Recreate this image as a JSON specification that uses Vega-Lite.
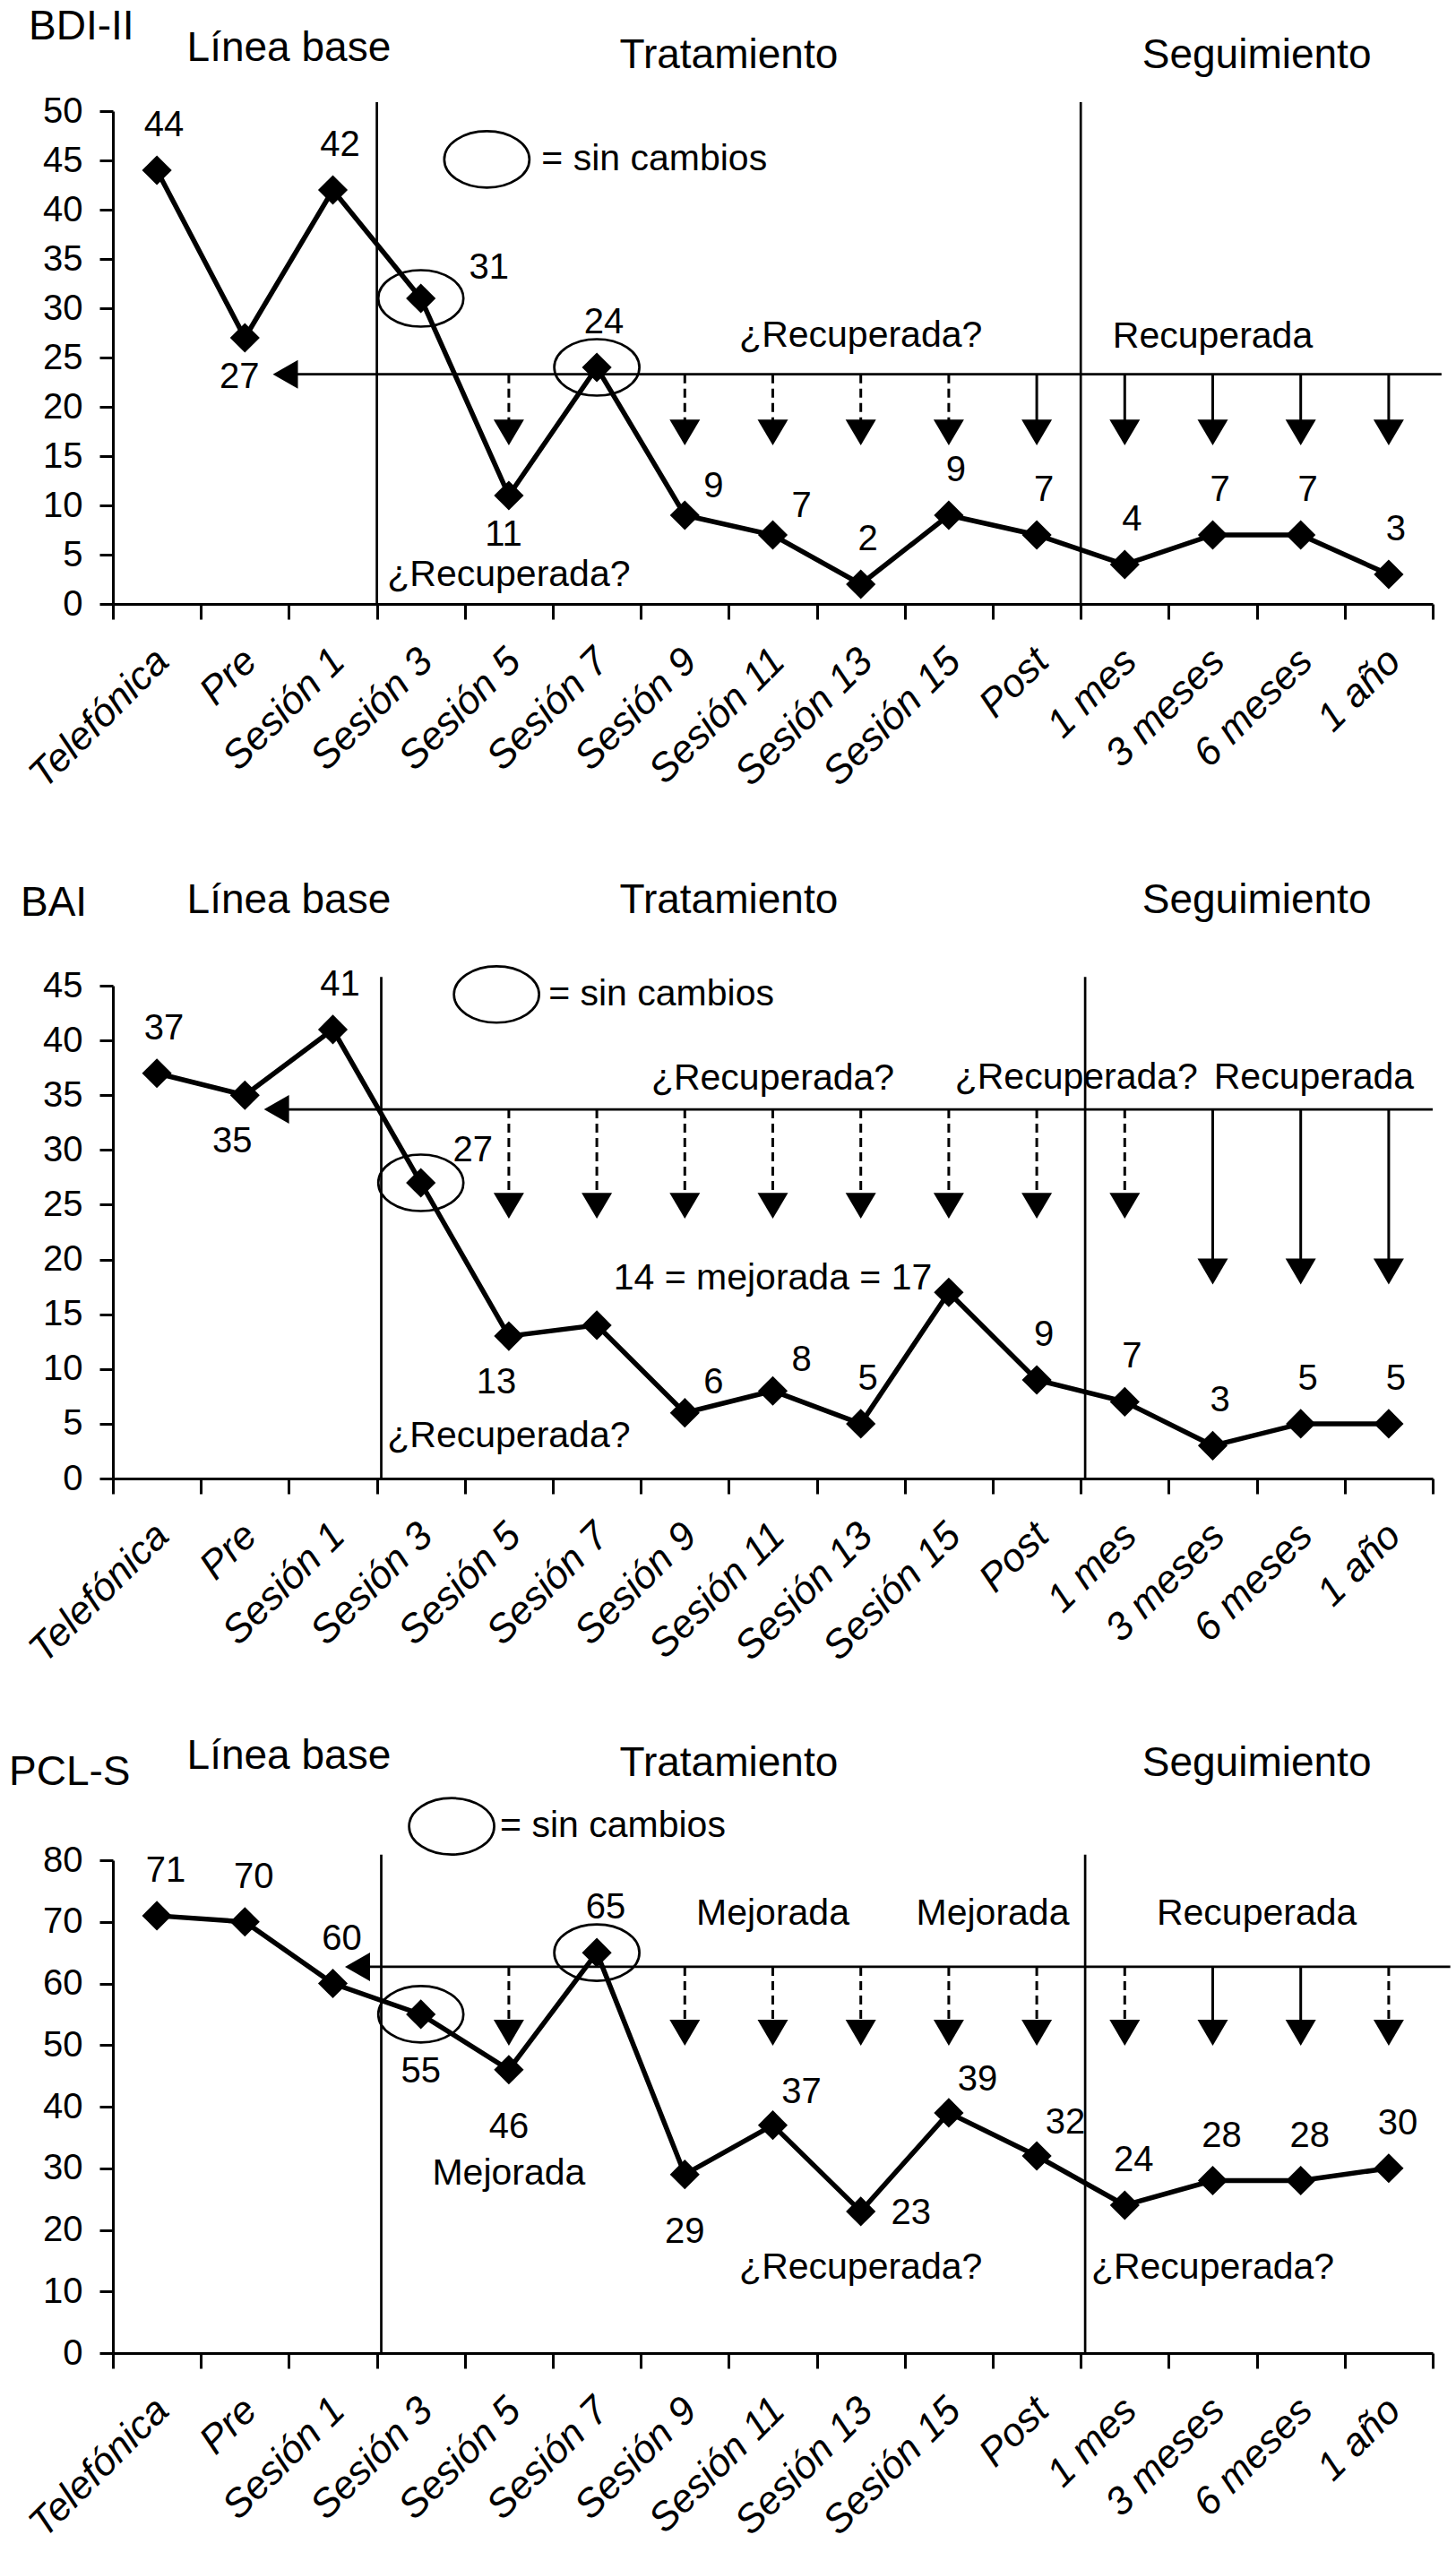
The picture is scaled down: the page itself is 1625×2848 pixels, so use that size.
{
"$schema":"https://vega.github.io/schema/vega-lite/v6.json",
"padding":{"left":10,"top":6,"right":5,"bottom":5},
"background":"white",
"bounds":"flush",
"spacing":426,
"config":{"view":{"stroke":null},"axis":{"grid":false,"labelFont":"Liberation Sans","labelColor":"black","domainColor":"black","tickColor":"black","domainWidth":3,"tickWidth":3},"text":{"font":"Liberation Sans","color":"black"}},
"datasets":{
"bdi":[{"cat":"Telefónica","v":44},{"cat":"Pre","v":27},{"cat":"Sesión 1","v":42},{"cat":"Sesión 3","v":31},{"cat":"Sesión 5","v":11},{"cat":"Sesión 7","v":24},{"cat":"Sesión 9","v":9},{"cat":"Sesión 11","v":7},{"cat":"Sesión 13","v":2},{"cat":"Sesión 15","v":9},{"cat":"Post","v":7},{"cat":"1 mes","v":4},{"cat":"3 meses","v":7},{"cat":"6 meses","v":7},{"cat":"1 año","v":3}],
"bai":[{"cat":"Telefónica","v":37},{"cat":"Pre","v":35},{"cat":"Sesión 1","v":41},{"cat":"Sesión 3","v":27},{"cat":"Sesión 5","v":13},{"cat":"Sesión 7","v":14},{"cat":"Sesión 9","v":6},{"cat":"Sesión 11","v":8},{"cat":"Sesión 13","v":5},{"cat":"Sesión 15","v":17},{"cat":"Post","v":9},{"cat":"1 mes","v":7},{"cat":"3 meses","v":3},{"cat":"6 meses","v":5},{"cat":"1 año","v":5}],
"pcl":[{"cat":"Telefónica","v":71},{"cat":"Pre","v":70},{"cat":"Sesión 1","v":60},{"cat":"Sesión 3","v":55},{"cat":"Sesión 5","v":46},{"cat":"Sesión 7","v":65},{"cat":"Sesión 9","v":29},{"cat":"Sesión 11","v":37},{"cat":"Sesión 13","v":23},{"cat":"Sesión 15","v":39},{"cat":"Post","v":32},{"cat":"1 mes","v":24},{"cat":"3 meses","v":28},{"cat":"6 meses","v":28},{"cat":"1 año","v":30}],
"bdi_flechas":[{"cat":"Sesión 5","corte":23.3,"fin":17.4,"estado":"dudoso"},{"cat":"Sesión 9","corte":23.3,"fin":17.4,"estado":"dudoso"},{"cat":"Sesión 11","corte":23.3,"fin":17.4,"estado":"dudoso"},{"cat":"Sesión 13","corte":23.3,"fin":17.4,"estado":"dudoso"},{"cat":"Sesión 15","corte":23.3,"fin":17.4,"estado":"dudoso"},{"cat":"Post","corte":23.3,"fin":17.4,"estado":"claro"},{"cat":"1 mes","corte":23.3,"fin":17.4,"estado":"claro"},{"cat":"3 meses","corte":23.3,"fin":17.4,"estado":"claro"},{"cat":"6 meses","corte":23.3,"fin":17.4,"estado":"claro"},{"cat":"1 año","corte":23.3,"fin":17.4,"estado":"claro"}],
"bai_flechas":[{"cat":"Sesión 5","corte":33.7,"fin":24.9,"estado":"dudoso"},{"cat":"Sesión 7","corte":33.7,"fin":24.9,"estado":"dudoso"},{"cat":"Sesión 9","corte":33.7,"fin":24.9,"estado":"dudoso"},{"cat":"Sesión 11","corte":33.7,"fin":24.9,"estado":"dudoso"},{"cat":"Sesión 13","corte":33.7,"fin":24.9,"estado":"dudoso"},{"cat":"Sesión 15","corte":33.7,"fin":24.9,"estado":"dudoso"},{"cat":"Post","corte":33.7,"fin":24.9,"estado":"dudoso"},{"cat":"1 mes","corte":33.7,"fin":24.9,"estado":"dudoso"},{"cat":"3 meses","corte":33.7,"fin":18.9,"estado":"claro"},{"cat":"6 meses","corte":33.7,"fin":18.9,"estado":"claro"},{"cat":"1 año","corte":33.7,"fin":18.9,"estado":"claro"}],
"pcl_flechas":[{"cat":"Sesión 5","corte":62.7,"fin":52.0,"estado":"dudoso"},{"cat":"Sesión 9","corte":62.7,"fin":52.0,"estado":"dudoso"},{"cat":"Sesión 11","corte":62.7,"fin":52.0,"estado":"dudoso"},{"cat":"Sesión 13","corte":62.7,"fin":52.0,"estado":"dudoso"},{"cat":"Sesión 15","corte":62.7,"fin":52.0,"estado":"dudoso"},{"cat":"Post","corte":62.7,"fin":52.0,"estado":"dudoso"},{"cat":"1 mes","corte":62.7,"fin":52.0,"estado":"dudoso"},{"cat":"3 meses","corte":62.7,"fin":52.0,"estado":"claro"},{"cat":"6 meses","corte":62.7,"fin":52.0,"estado":"claro"},{"cat":"1 año","corte":62.7,"fin":52.0,"estado":"dudoso"}],
"bdi_corte":[{"desde":"Pre","hasta":"1 año","v":23.3}],
"bai_corte":[{"desde":"Pre","hasta":"1 año","v":33.7}],
"pcl_corte":[{"desde":"Sesión 1","hasta":"1 año","v":62.7}],
"bdi_div":[{"cat":"Sesión 3","top":50.9},{"cat":"1 mes","top":50.9}],
"bai_div":[{"cat":"Sesión 3","top":45.8},{"cat":"1 mes","top":45.8}],
"pcl_div":[{"cat":"Sesión 3","top":80.9},{"cat":"1 mes","top":80.9}],
"bdi_fases":[{"cat":"Sesión 1","v":55.1,"txt":"Línea base"},{"cat":"Sesión 11","v":54.4,"txt":"Tratamiento"},{"cat":"6 meses","v":54.4,"txt":"Seguimiento"}],
"bai_fases":[{"cat":"Sesión 1","v":51.6,"txt":"Línea base"},{"cat":"Sesión 11","v":51.6,"txt":"Tratamiento"},{"cat":"6 meses","v":51.6,"txt":"Seguimiento"}],
"pcl_fases":[{"cat":"Sesión 1","v":94.8,"txt":"Línea base"},{"cat":"Sesión 11","v":93.7,"txt":"Tratamiento"},{"cat":"6 meses","v":93.7,"txt":"Seguimiento"}],
"bdi_nombre":[{"cat":"Telefónica","v":57.3,"txt":"BDI-II"}],
"bai_nombre":[{"cat":"Telefónica","v":51.4,"txt":"BAI"}],
"pcl_nombre":[{"cat":"Telefónica","v":92.2,"txt":"PCL-S"}],
"bdi_notas":[{"cat":"Sesión 13","v":26.1,"txt":"¿Recuperada?"},{"cat":"3 meses","v":26.0,"txt":"Recuperada"},{"cat":"Sesión 5","v":1.8,"txt":"¿Recuperada?"}],
"bai_notas":[{"cat":"Sesión 11","v":35.5,"txt":"¿Recuperada?"},{"cat":"1 mes","v":35.6,"txt":"¿Recuperada?"},{"cat":"6 meses","v":35.6,"txt":"Recuperada"},{"cat":"Sesión 11","v":17.3,"txt":"14 = mejorada = 17"},{"cat":"Sesión 5","v":2.9,"txt":"¿Recuperada?"}],
"pcl_notas":[{"cat":"Sesión 11","v":69.5,"txt":"Mejorada"},{"cat":"Post","v":69.6,"txt":"Mejorada"},{"cat":"6 meses","v":69.6,"txt":"Recuperada"},{"cat":"Sesión 5","v":27.3,"txt":"Mejorada"},{"cat":"Sesión 13","v":12.1,"txt":"¿Recuperada?"},{"cat":"3 meses","v":12.1,"txt":"¿Recuperada?"}],
"bdi_leyenda":[{"cat":"Sesión 5","v":45.1,"txt":"= sin cambios"}],
"bai_leyenda":[{"cat":"Sesión 5","v":44.2,"txt":"= sin cambios"}],
"pcl_leyenda":[{"cat":"Sesión 3","v":85.5,"txt":"= sin cambios"}]
},
"vconcat":[
{"width":1473,"height":550,"layer":[
{"data":{"name":"bdi_div"},"mark":{"type":"rule","color":"black","strokeWidth":2.7},"encoding":{"x":{"field":"cat","type":"nominal","title":null,"bandPosition":0,"scale":{"domain":["Telefónica","Pre","Sesión 1","Sesión 3","Sesión 5","Sesión 7","Sesión 9","Sesión 11","Sesión 13","Sesión 15","Post","1 mes","3 meses","6 meses","1 año"],"paddingInner":0,"paddingOuter":0}},"y":{"field":"top","type":"quantitative","title":null,"scale":{"domain":[0,50],"nice":false}},"y2":{"datum":0}}},
{"data":{"name":"bdi_corte"},"mark":{"type":"rule","color":"black","strokeWidth":2.7},"encoding":{"x":{"field":"desde","type":"nominal","title":null,"bandPosition":0.96,"scale":{"domain":["Telefónica","Pre","Sesión 1","Sesión 3","Sesión 5","Sesión 7","Sesión 9","Sesión 11","Sesión 13","Sesión 15","Post","1 mes","3 meses","6 meses","1 año"],"paddingInner":0,"paddingOuter":0}},"x2":{"field":"hasta","bandPosition":1.1},"y":{"field":"v","type":"quantitative","title":null,"scale":{"domain":[0,50],"nice":false}}}},
{"data":{"name":"bdi_corte"},"mark":{"type":"point","shape":"M-0.875,0L0.875,-1L0.875,1Z","size":1024,"filled":true,"color":"black","opacity":1},"encoding":{"x":{"field":"desde","type":"nominal","title":null,"bandPosition":0.96,"scale":{"domain":["Telefónica","Pre","Sesión 1","Sesión 3","Sesión 5","Sesión 7","Sesión 9","Sesión 11","Sesión 13","Sesión 15","Post","1 mes","3 meses","6 meses","1 año"],"paddingInner":0,"paddingOuter":0}},"y":{"field":"v","type":"quantitative","title":null,"scale":{"domain":[0,50],"nice":false}}}},
{"data":{"name":"bdi_flechas"},"mark":{"type":"rule","color":"black","strokeWidth":3},"encoding":{"x":{"field":"cat","type":"nominal","title":null,"scale":{"domain":["Telefónica","Pre","Sesión 1","Sesión 3","Sesión 5","Sesión 7","Sesión 9","Sesión 11","Sesión 13","Sesión 15","Post","1 mes","3 meses","6 meses","1 año"],"paddingInner":0,"paddingOuter":0}},"y":{"field":"corte","type":"quantitative","title":null,"scale":{"domain":[0,50],"nice":false}},"y2":{"field":"fin"},"strokeDash":{"field":"estado","type":"nominal","scale":{"domain":["dudoso","claro"],"range":[[10,6],[1,0]]},"legend":null}}},
{"data":{"name":"bdi_flechas"},"mark":{"type":"point","shape":"M-1,-0.85L1,-0.85L0,0.85Z","size":1156,"filled":true,"color":"black","opacity":1},"encoding":{"x":{"field":"cat","type":"nominal","title":null,"scale":{"domain":["Telefónica","Pre","Sesión 1","Sesión 3","Sesión 5","Sesión 7","Sesión 9","Sesión 11","Sesión 13","Sesión 15","Post","1 mes","3 meses","6 meses","1 año"],"paddingInner":0,"paddingOuter":0}},"y":{"field":"fin","type":"quantitative","title":null,"scale":{"domain":[0,50],"nice":false}}}},
{"data":{"name":"bdi"},"mark":{"type":"line","color":"black","strokeWidth":5.5},"encoding":{"x":{"field":"cat","type":"nominal","title":null,"scale":{"domain":["Telefónica","Pre","Sesión 1","Sesión 3","Sesión 5","Sesión 7","Sesión 9","Sesión 11","Sesión 13","Sesión 15","Post","1 mes","3 meses","6 meses","1 año"],"paddingInner":0,"paddingOuter":0},"axis":{"tickBand":"extent","labelAngle":-45,"labelAlign":"right","labelBaseline":"middle","labelPadding":40,"labelOffset":6,"tickSize":17,"labelFontSize":44,"labelFontStyle":"italic","labelOverlap":false,"labelLimit":0}},"y":{"field":"v","type":"quantitative","title":null,"scale":{"domain":[0,50],"nice":false},"axis":{"values":[0,5,10,15,20,25,30,35,40,45,50],"tickSize":15,"labelPadding":19,"labelFontSize":40}},"order":{"value":null}}},
{"data":{"name":"bdi"},"mark":{"type":"point","shape":"diamond","size":1100,"filled":true,"color":"black","opacity":1},"encoding":{"x":{"field":"cat","type":"nominal","title":null,"scale":{"domain":["Telefónica","Pre","Sesión 1","Sesión 3","Sesión 5","Sesión 7","Sesión 9","Sesión 11","Sesión 13","Sesión 15","Post","1 mes","3 meses","6 meses","1 año"],"paddingInner":0,"paddingOuter":0}},"y":{"field":"v","type":"quantitative","title":null,"scale":{"domain":[0,50],"nice":false}}}},
{"data":{"name":"bdi"},"transform":[{"filter":{"field":"cat","oneOf":["Sesión 3","Sesión 7"]}}],"mark":{"type":"point","shape":"M-1,0C-1,-0.366,-0.552,-0.663,0,-0.663C0.552,-0.663,1,-0.366,1,0C1,0.366,0.552,0.663,0,0.663C-0.552,0.663,-1,0.366,-1,0Z","size":9025,"filled":false,"color":"black","strokeWidth":2.7,"opacity":1},"encoding":{"x":{"field":"cat","type":"nominal","title":null,"scale":{"domain":["Telefónica","Pre","Sesión 1","Sesión 3","Sesión 5","Sesión 7","Sesión 9","Sesión 11","Sesión 13","Sesión 15","Post","1 mes","3 meses","6 meses","1 año"],"paddingInner":0,"paddingOuter":0}},"y":{"field":"v","type":"quantitative","title":null,"scale":{"domain":[0,50],"nice":false}}}},
{"data":{"name":"bdi"},"transform":[{"filter":{"field":"cat","oneOf":["Telefónica","Sesión 1","Sesión 7","Sesión 13","Sesión 15","Post","1 mes","3 meses","6 meses","1 año"]}}],"mark":{"type":"text","fontSize":40,"align":"center","baseline":"alphabetic","dx":8,"dy":-38},"encoding":{"x":{"field":"cat","type":"nominal","title":null,"scale":{"domain":["Telefónica","Pre","Sesión 1","Sesión 3","Sesión 5","Sesión 7","Sesión 9","Sesión 11","Sesión 13","Sesión 15","Post","1 mes","3 meses","6 meses","1 año"],"paddingInner":0,"paddingOuter":0}},"y":{"field":"v","type":"quantitative","title":null,"scale":{"domain":[0,50],"nice":false}},"text":{"field":"v","type":"quantitative"}}},
{"data":{"name":"bdi"},"transform":[{"filter":{"field":"cat","oneOf":["Pre","Sesión 5"]}}],"mark":{"type":"text","fontSize":40,"align":"center","baseline":"alphabetic","dx":-6,"dy":56},"encoding":{"x":{"field":"cat","type":"nominal","title":null,"scale":{"domain":["Telefónica","Pre","Sesión 1","Sesión 3","Sesión 5","Sesión 7","Sesión 9","Sesión 11","Sesión 13","Sesión 15","Post","1 mes","3 meses","6 meses","1 año"],"paddingInner":0,"paddingOuter":0}},"y":{"field":"v","type":"quantitative","title":null,"scale":{"domain":[0,50],"nice":false}},"text":{"field":"v","type":"quantitative"}}},
{"data":{"name":"bdi"},"transform":[{"filter":{"field":"cat","oneOf":["Sesión 3"]}}],"mark":{"type":"text","fontSize":40,"align":"center","baseline":"alphabetic","dx":76,"dy":-22},"encoding":{"x":{"field":"cat","type":"nominal","title":null,"scale":{"domain":["Telefónica","Pre","Sesión 1","Sesión 3","Sesión 5","Sesión 7","Sesión 9","Sesión 11","Sesión 13","Sesión 15","Post","1 mes","3 meses","6 meses","1 año"],"paddingInner":0,"paddingOuter":0}},"y":{"field":"v","type":"quantitative","title":null,"scale":{"domain":[0,50],"nice":false}},"text":{"field":"v","type":"quantitative"}}},
{"data":{"name":"bdi"},"transform":[{"filter":{"field":"cat","oneOf":["Sesión 9","Sesión 11"]}}],"mark":{"type":"text","fontSize":40,"align":"center","baseline":"alphabetic","dx":32,"dy":-20},"encoding":{"x":{"field":"cat","type":"nominal","title":null,"scale":{"domain":["Telefónica","Pre","Sesión 1","Sesión 3","Sesión 5","Sesión 7","Sesión 9","Sesión 11","Sesión 13","Sesión 15","Post","1 mes","3 meses","6 meses","1 año"],"paddingInner":0,"paddingOuter":0}},"y":{"field":"v","type":"quantitative","title":null,"scale":{"domain":[0,50],"nice":false}},"text":{"field":"v","type":"quantitative"}}},
{"data":{"name":"bdi_notas"},"mark":{"type":"text","fontSize":41,"align":"center","baseline":"alphabetic"},"encoding":{"x":{"field":"cat","type":"nominal","title":null,"scale":{"domain":["Telefónica","Pre","Sesión 1","Sesión 3","Sesión 5","Sesión 7","Sesión 9","Sesión 11","Sesión 13","Sesión 15","Post","1 mes","3 meses","6 meses","1 año"],"paddingInner":0,"paddingOuter":0}},"y":{"field":"v","type":"quantitative","title":null,"scale":{"domain":[0,50],"nice":false}},"text":{"field":"txt"}}},
{"data":{"name":"bdi_fases"},"mark":{"type":"text","fontSize":46,"align":"center","baseline":"alphabetic"},"encoding":{"x":{"field":"cat","type":"nominal","title":null,"bandPosition":0,"scale":{"domain":["Telefónica","Pre","Sesión 1","Sesión 3","Sesión 5","Sesión 7","Sesión 9","Sesión 11","Sesión 13","Sesión 15","Post","1 mes","3 meses","6 meses","1 año"],"paddingInner":0,"paddingOuter":0}},"y":{"field":"v","type":"quantitative","title":null,"scale":{"domain":[0,50],"nice":false}},"text":{"field":"txt"}}},
{"data":{"name":"bdi_nombre"},"mark":{"type":"text","fontSize":46,"align":"left","baseline":"alphabetic","dx":-94},"encoding":{"x":{"field":"cat","type":"nominal","title":null,"bandPosition":0,"scale":{"domain":["Telefónica","Pre","Sesión 1","Sesión 3","Sesión 5","Sesión 7","Sesión 9","Sesión 11","Sesión 13","Sesión 15","Post","1 mes","3 meses","6 meses","1 año"],"paddingInner":0,"paddingOuter":0}},"y":{"field":"v","type":"quantitative","title":null,"scale":{"domain":[0,50],"nice":false}},"text":{"field":"txt"}}},
{"data":{"name":"bdi_leyenda"},"mark":{"type":"point","shape":"M-1,0C-1,-0.366,-0.552,-0.663,0,-0.663C0.552,-0.663,1,-0.366,1,0C1,0.366,0.552,0.663,0,0.663C-0.552,0.663,-1,0.366,-1,0Z","size":9025,"filled":false,"color":"black","strokeWidth":2.7,"opacity":1},"encoding":{"x":{"field":"cat","type":"nominal","title":null,"bandPosition":0.25,"scale":{"domain":["Telefónica","Pre","Sesión 1","Sesión 3","Sesión 5","Sesión 7","Sesión 9","Sesión 11","Sesión 13","Sesión 15","Post","1 mes","3 meses","6 meses","1 año"],"paddingInner":0,"paddingOuter":0}},"y":{"field":"v","type":"quantitative","title":null,"scale":{"domain":[0,50],"nice":false}}}},
{"data":{"name":"bdi_leyenda"},"mark":{"type":"text","fontSize":41,"align":"left","baseline":"middle","dx":61},"encoding":{"x":{"field":"cat","type":"nominal","title":null,"bandPosition":0.25,"scale":{"domain":["Telefónica","Pre","Sesión 1","Sesión 3","Sesión 5","Sesión 7","Sesión 9","Sesión 11","Sesión 13","Sesión 15","Post","1 mes","3 meses","6 meses","1 año"],"paddingInner":0,"paddingOuter":0}},"y":{"field":"v","type":"quantitative","title":null,"scale":{"domain":[0,50],"nice":false}},"text":{"field":"txt"}}}
]},
{"width":1473,"height":550,"layer":[
{"data":{"name":"bai_div"},"mark":{"type":"rule","color":"black","strokeWidth":2.7},"encoding":{"x":{"field":"cat","type":"nominal","title":null,"bandPosition":0.05,"scale":{"domain":["Telefónica","Pre","Sesión 1","Sesión 3","Sesión 5","Sesión 7","Sesión 9","Sesión 11","Sesión 13","Sesión 15","Post","1 mes","3 meses","6 meses","1 año"],"paddingInner":0,"paddingOuter":0}},"y":{"field":"top","type":"quantitative","title":null,"scale":{"domain":[0,45],"nice":false}},"y2":{"datum":0}}},
{"data":{"name":"bai_corte"},"mark":{"type":"rule","color":"black","strokeWidth":2.7},"encoding":{"x":{"field":"desde","type":"nominal","title":null,"bandPosition":0.86,"scale":{"domain":["Telefónica","Pre","Sesión 1","Sesión 3","Sesión 5","Sesión 7","Sesión 9","Sesión 11","Sesión 13","Sesión 15","Post","1 mes","3 meses","6 meses","1 año"],"paddingInner":0,"paddingOuter":0}},"x2":{"field":"hasta","bandPosition":1.0},"y":{"field":"v","type":"quantitative","title":null,"scale":{"domain":[0,45],"nice":false}}}},
{"data":{"name":"bai_corte"},"mark":{"type":"point","shape":"M-0.875,0L0.875,-1L0.875,1Z","size":1024,"filled":true,"color":"black","opacity":1},"encoding":{"x":{"field":"desde","type":"nominal","title":null,"bandPosition":0.86,"scale":{"domain":["Telefónica","Pre","Sesión 1","Sesión 3","Sesión 5","Sesión 7","Sesión 9","Sesión 11","Sesión 13","Sesión 15","Post","1 mes","3 meses","6 meses","1 año"],"paddingInner":0,"paddingOuter":0}},"y":{"field":"v","type":"quantitative","title":null,"scale":{"domain":[0,45],"nice":false}}}},
{"data":{"name":"bai_flechas"},"mark":{"type":"rule","color":"black","strokeWidth":3},"encoding":{"x":{"field":"cat","type":"nominal","title":null,"scale":{"domain":["Telefónica","Pre","Sesión 1","Sesión 3","Sesión 5","Sesión 7","Sesión 9","Sesión 11","Sesión 13","Sesión 15","Post","1 mes","3 meses","6 meses","1 año"],"paddingInner":0,"paddingOuter":0}},"y":{"field":"corte","type":"quantitative","title":null,"scale":{"domain":[0,45],"nice":false}},"y2":{"field":"fin"},"strokeDash":{"field":"estado","type":"nominal","scale":{"domain":["dudoso","claro"],"range":[[10,6],[1,0]]},"legend":null}}},
{"data":{"name":"bai_flechas"},"mark":{"type":"point","shape":"M-1,-0.85L1,-0.85L0,0.85Z","size":1156,"filled":true,"color":"black","opacity":1},"encoding":{"x":{"field":"cat","type":"nominal","title":null,"scale":{"domain":["Telefónica","Pre","Sesión 1","Sesión 3","Sesión 5","Sesión 7","Sesión 9","Sesión 11","Sesión 13","Sesión 15","Post","1 mes","3 meses","6 meses","1 año"],"paddingInner":0,"paddingOuter":0}},"y":{"field":"fin","type":"quantitative","title":null,"scale":{"domain":[0,45],"nice":false}}}},
{"data":{"name":"bai"},"mark":{"type":"line","color":"black","strokeWidth":5.5},"encoding":{"x":{"field":"cat","type":"nominal","title":null,"scale":{"domain":["Telefónica","Pre","Sesión 1","Sesión 3","Sesión 5","Sesión 7","Sesión 9","Sesión 11","Sesión 13","Sesión 15","Post","1 mes","3 meses","6 meses","1 año"],"paddingInner":0,"paddingOuter":0},"axis":{"tickBand":"extent","labelAngle":-45,"labelAlign":"right","labelBaseline":"middle","labelPadding":40,"labelOffset":6,"tickSize":17,"labelFontSize":44,"labelFontStyle":"italic","labelOverlap":false,"labelLimit":0}},"y":{"field":"v","type":"quantitative","title":null,"scale":{"domain":[0,45],"nice":false},"axis":{"values":[0,5,10,15,20,25,30,35,40,45],"tickSize":15,"labelPadding":19,"labelFontSize":40}},"order":{"value":null}}},
{"data":{"name":"bai"},"mark":{"type":"point","shape":"diamond","size":1100,"filled":true,"color":"black","opacity":1},"encoding":{"x":{"field":"cat","type":"nominal","title":null,"scale":{"domain":["Telefónica","Pre","Sesión 1","Sesión 3","Sesión 5","Sesión 7","Sesión 9","Sesión 11","Sesión 13","Sesión 15","Post","1 mes","3 meses","6 meses","1 año"],"paddingInner":0,"paddingOuter":0}},"y":{"field":"v","type":"quantitative","title":null,"scale":{"domain":[0,45],"nice":false}}}},
{"data":{"name":"bai"},"transform":[{"filter":{"field":"cat","oneOf":["Sesión 3"]}}],"mark":{"type":"point","shape":"M-1,0C-1,-0.366,-0.552,-0.663,0,-0.663C0.552,-0.663,1,-0.366,1,0C1,0.366,0.552,0.663,0,0.663C-0.552,0.663,-1,0.366,-1,0Z","size":9025,"filled":false,"color":"black","strokeWidth":2.7,"opacity":1},"encoding":{"x":{"field":"cat","type":"nominal","title":null,"scale":{"domain":["Telefónica","Pre","Sesión 1","Sesión 3","Sesión 5","Sesión 7","Sesión 9","Sesión 11","Sesión 13","Sesión 15","Post","1 mes","3 meses","6 meses","1 año"],"paddingInner":0,"paddingOuter":0}},"y":{"field":"v","type":"quantitative","title":null,"scale":{"domain":[0,45],"nice":false}}}},
{"data":{"name":"bai"},"transform":[{"filter":{"field":"cat","oneOf":["Telefónica","Sesión 1","Sesión 13","Post","1 mes","3 meses","6 meses","1 año"]}}],"mark":{"type":"text","fontSize":40,"align":"center","baseline":"alphabetic","dx":8,"dy":-38},"encoding":{"x":{"field":"cat","type":"nominal","title":null,"scale":{"domain":["Telefónica","Pre","Sesión 1","Sesión 3","Sesión 5","Sesión 7","Sesión 9","Sesión 11","Sesión 13","Sesión 15","Post","1 mes","3 meses","6 meses","1 año"],"paddingInner":0,"paddingOuter":0}},"y":{"field":"v","type":"quantitative","title":null,"scale":{"domain":[0,45],"nice":false}},"text":{"field":"v","type":"quantitative"}}},
{"data":{"name":"bai"},"transform":[{"filter":{"field":"cat","oneOf":["Pre","Sesión 5"]}}],"mark":{"type":"text","fontSize":40,"align":"center","baseline":"alphabetic","dx":-14,"dy":64},"encoding":{"x":{"field":"cat","type":"nominal","title":null,"scale":{"domain":["Telefónica","Pre","Sesión 1","Sesión 3","Sesión 5","Sesión 7","Sesión 9","Sesión 11","Sesión 13","Sesión 15","Post","1 mes","3 meses","6 meses","1 año"],"paddingInner":0,"paddingOuter":0}},"y":{"field":"v","type":"quantitative","title":null,"scale":{"domain":[0,45],"nice":false}},"text":{"field":"v","type":"quantitative"}}},
{"data":{"name":"bai"},"transform":[{"filter":{"field":"cat","oneOf":["Sesión 3"]}}],"mark":{"type":"text","fontSize":40,"align":"center","baseline":"alphabetic","dx":58,"dy":-24},"encoding":{"x":{"field":"cat","type":"nominal","title":null,"scale":{"domain":["Telefónica","Pre","Sesión 1","Sesión 3","Sesión 5","Sesión 7","Sesión 9","Sesión 11","Sesión 13","Sesión 15","Post","1 mes","3 meses","6 meses","1 año"],"paddingInner":0,"paddingOuter":0}},"y":{"field":"v","type":"quantitative","title":null,"scale":{"domain":[0,45],"nice":false}},"text":{"field":"v","type":"quantitative"}}},
{"data":{"name":"bai"},"transform":[{"filter":{"field":"cat","oneOf":["Sesión 9","Sesión 11"]}}],"mark":{"type":"text","fontSize":40,"align":"center","baseline":"alphabetic","dx":32,"dy":-22},"encoding":{"x":{"field":"cat","type":"nominal","title":null,"scale":{"domain":["Telefónica","Pre","Sesión 1","Sesión 3","Sesión 5","Sesión 7","Sesión 9","Sesión 11","Sesión 13","Sesión 15","Post","1 mes","3 meses","6 meses","1 año"],"paddingInner":0,"paddingOuter":0}},"y":{"field":"v","type":"quantitative","title":null,"scale":{"domain":[0,45],"nice":false}},"text":{"field":"v","type":"quantitative"}}},
{"data":{"name":"bai_notas"},"transform":[{"filter":{"not":{"field":"cat","oneOf":["1 mes","6 meses"]}}}],"mark":{"type":"text","fontSize":41,"align":"center","baseline":"alphabetic"},"encoding":{"x":{"field":"cat","type":"nominal","title":null,"scale":{"domain":["Telefónica","Pre","Sesión 1","Sesión 3","Sesión 5","Sesión 7","Sesión 9","Sesión 11","Sesión 13","Sesión 15","Post","1 mes","3 meses","6 meses","1 año"],"paddingInner":0,"paddingOuter":0}},"y":{"field":"v","type":"quantitative","title":null,"scale":{"domain":[0,45],"nice":false}},"text":{"field":"txt"}}},
{"data":{"name":"bai_notas"},"transform":[{"filter":{"field":"cat","oneOf":["1 mes"]}}],"mark":{"type":"text","fontSize":41,"align":"center","baseline":"alphabetic"},"encoding":{"x":{"field":"cat","type":"nominal","title":null,"bandPosition":-0.05,"scale":{"domain":["Telefónica","Pre","Sesión 1","Sesión 3","Sesión 5","Sesión 7","Sesión 9","Sesión 11","Sesión 13","Sesión 15","Post","1 mes","3 meses","6 meses","1 año"],"paddingInner":0,"paddingOuter":0}},"y":{"field":"v","type":"quantitative","title":null,"scale":{"domain":[0,45],"nice":false}},"text":{"field":"txt"}}},
{"data":{"name":"bai_notas"},"transform":[{"filter":{"field":"cat","oneOf":["6 meses"]}}],"mark":{"type":"text","fontSize":41,"align":"center","baseline":"alphabetic"},"encoding":{"x":{"field":"cat","type":"nominal","title":null,"bandPosition":0.65,"scale":{"domain":["Telefónica","Pre","Sesión 1","Sesión 3","Sesión 5","Sesión 7","Sesión 9","Sesión 11","Sesión 13","Sesión 15","Post","1 mes","3 meses","6 meses","1 año"],"paddingInner":0,"paddingOuter":0}},"y":{"field":"v","type":"quantitative","title":null,"scale":{"domain":[0,45],"nice":false}},"text":{"field":"txt"}}},
{"data":{"name":"bai_fases"},"mark":{"type":"text","fontSize":46,"align":"center","baseline":"alphabetic"},"encoding":{"x":{"field":"cat","type":"nominal","title":null,"bandPosition":0,"scale":{"domain":["Telefónica","Pre","Sesión 1","Sesión 3","Sesión 5","Sesión 7","Sesión 9","Sesión 11","Sesión 13","Sesión 15","Post","1 mes","3 meses","6 meses","1 año"],"paddingInner":0,"paddingOuter":0}},"y":{"field":"v","type":"quantitative","title":null,"scale":{"domain":[0,45],"nice":false}},"text":{"field":"txt"}}},
{"data":{"name":"bai_nombre"},"mark":{"type":"text","fontSize":46,"align":"left","baseline":"alphabetic","dx":-103},"encoding":{"x":{"field":"cat","type":"nominal","title":null,"bandPosition":0,"scale":{"domain":["Telefónica","Pre","Sesión 1","Sesión 3","Sesión 5","Sesión 7","Sesión 9","Sesión 11","Sesión 13","Sesión 15","Post","1 mes","3 meses","6 meses","1 año"],"paddingInner":0,"paddingOuter":0}},"y":{"field":"v","type":"quantitative","title":null,"scale":{"domain":[0,45],"nice":false}},"text":{"field":"txt"}}},
{"data":{"name":"bai_leyenda"},"mark":{"type":"point","shape":"M-1,0C-1,-0.366,-0.552,-0.663,0,-0.663C0.552,-0.663,1,-0.366,1,0C1,0.366,0.552,0.663,0,0.663C-0.552,0.663,-1,0.366,-1,0Z","size":9025,"filled":false,"color":"black","strokeWidth":2.7,"opacity":1},"encoding":{"x":{"field":"cat","type":"nominal","title":null,"bandPosition":0.36,"scale":{"domain":["Telefónica","Pre","Sesión 1","Sesión 3","Sesión 5","Sesión 7","Sesión 9","Sesión 11","Sesión 13","Sesión 15","Post","1 mes","3 meses","6 meses","1 año"],"paddingInner":0,"paddingOuter":0}},"y":{"field":"v","type":"quantitative","title":null,"scale":{"domain":[0,45],"nice":false}}}},
{"data":{"name":"bai_leyenda"},"mark":{"type":"text","fontSize":41,"align":"left","baseline":"middle","dx":58},"encoding":{"x":{"field":"cat","type":"nominal","title":null,"bandPosition":0.36,"scale":{"domain":["Telefónica","Pre","Sesión 1","Sesión 3","Sesión 5","Sesión 7","Sesión 9","Sesión 11","Sesión 13","Sesión 15","Post","1 mes","3 meses","6 meses","1 año"],"paddingInner":0,"paddingOuter":0}},"y":{"field":"v","type":"quantitative","title":null,"scale":{"domain":[0,45],"nice":false}},"text":{"field":"txt"}}}
]},
{"width":1473,"height":550,"layer":[
{"data":{"name":"pcl_div"},"mark":{"type":"rule","color":"black","strokeWidth":2.7},"encoding":{"x":{"field":"cat","type":"nominal","title":null,"bandPosition":0.05,"scale":{"domain":["Telefónica","Pre","Sesión 1","Sesión 3","Sesión 5","Sesión 7","Sesión 9","Sesión 11","Sesión 13","Sesión 15","Post","1 mes","3 meses","6 meses","1 año"],"paddingInner":0,"paddingOuter":0}},"y":{"field":"top","type":"quantitative","title":null,"scale":{"domain":[0,80],"nice":false}},"y2":{"datum":0}}},
{"data":{"name":"pcl_corte"},"mark":{"type":"rule","color":"black","strokeWidth":2.7},"encoding":{"x":{"field":"desde","type":"nominal","title":null,"bandPosition":0.78,"scale":{"domain":["Telefónica","Pre","Sesión 1","Sesión 3","Sesión 5","Sesión 7","Sesión 9","Sesión 11","Sesión 13","Sesión 15","Post","1 mes","3 meses","6 meses","1 año"],"paddingInner":0,"paddingOuter":0}},"x2":{"field":"hasta","bandPosition":1.2},"y":{"field":"v","type":"quantitative","title":null,"scale":{"domain":[0,80],"nice":false}}}},
{"data":{"name":"pcl_corte"},"mark":{"type":"point","shape":"M-0.875,0L0.875,-1L0.875,1Z","size":1024,"filled":true,"color":"black","opacity":1},"encoding":{"x":{"field":"desde","type":"nominal","title":null,"bandPosition":0.78,"scale":{"domain":["Telefónica","Pre","Sesión 1","Sesión 3","Sesión 5","Sesión 7","Sesión 9","Sesión 11","Sesión 13","Sesión 15","Post","1 mes","3 meses","6 meses","1 año"],"paddingInner":0,"paddingOuter":0}},"y":{"field":"v","type":"quantitative","title":null,"scale":{"domain":[0,80],"nice":false}}}},
{"data":{"name":"pcl_flechas"},"mark":{"type":"rule","color":"black","strokeWidth":3},"encoding":{"x":{"field":"cat","type":"nominal","title":null,"scale":{"domain":["Telefónica","Pre","Sesión 1","Sesión 3","Sesión 5","Sesión 7","Sesión 9","Sesión 11","Sesión 13","Sesión 15","Post","1 mes","3 meses","6 meses","1 año"],"paddingInner":0,"paddingOuter":0}},"y":{"field":"corte","type":"quantitative","title":null,"scale":{"domain":[0,80],"nice":false}},"y2":{"field":"fin"},"strokeDash":{"field":"estado","type":"nominal","scale":{"domain":["dudoso","claro"],"range":[[10,6],[1,0]]},"legend":null}}},
{"data":{"name":"pcl_flechas"},"mark":{"type":"point","shape":"M-1,-0.85L1,-0.85L0,0.85Z","size":1156,"filled":true,"color":"black","opacity":1},"encoding":{"x":{"field":"cat","type":"nominal","title":null,"scale":{"domain":["Telefónica","Pre","Sesión 1","Sesión 3","Sesión 5","Sesión 7","Sesión 9","Sesión 11","Sesión 13","Sesión 15","Post","1 mes","3 meses","6 meses","1 año"],"paddingInner":0,"paddingOuter":0}},"y":{"field":"fin","type":"quantitative","title":null,"scale":{"domain":[0,80],"nice":false}}}},
{"data":{"name":"pcl"},"mark":{"type":"line","color":"black","strokeWidth":5.5},"encoding":{"x":{"field":"cat","type":"nominal","title":null,"scale":{"domain":["Telefónica","Pre","Sesión 1","Sesión 3","Sesión 5","Sesión 7","Sesión 9","Sesión 11","Sesión 13","Sesión 15","Post","1 mes","3 meses","6 meses","1 año"],"paddingInner":0,"paddingOuter":0},"axis":{"tickBand":"extent","labelAngle":-45,"labelAlign":"right","labelBaseline":"middle","labelPadding":40,"labelOffset":6,"tickSize":17,"labelFontSize":44,"labelFontStyle":"italic","labelOverlap":false,"labelLimit":0}},"y":{"field":"v","type":"quantitative","title":null,"scale":{"domain":[0,80],"nice":false},"axis":{"values":[0,10,20,30,40,50,60,70,80],"tickSize":15,"labelPadding":19,"labelFontSize":40}},"order":{"value":null}}},
{"data":{"name":"pcl"},"mark":{"type":"point","shape":"diamond","size":1100,"filled":true,"color":"black","opacity":1},"encoding":{"x":{"field":"cat","type":"nominal","title":null,"scale":{"domain":["Telefónica","Pre","Sesión 1","Sesión 3","Sesión 5","Sesión 7","Sesión 9","Sesión 11","Sesión 13","Sesión 15","Post","1 mes","3 meses","6 meses","1 año"],"paddingInner":0,"paddingOuter":0}},"y":{"field":"v","type":"quantitative","title":null,"scale":{"domain":[0,80],"nice":false}}}},
{"data":{"name":"pcl"},"transform":[{"filter":{"field":"cat","oneOf":["Sesión 3","Sesión 7"]}}],"mark":{"type":"point","shape":"M-1,0C-1,-0.366,-0.552,-0.663,0,-0.663C0.552,-0.663,1,-0.366,1,0C1,0.366,0.552,0.663,0,0.663C-0.552,0.663,-1,0.366,-1,0Z","size":9025,"filled":false,"color":"black","strokeWidth":2.7,"opacity":1},"encoding":{"x":{"field":"cat","type":"nominal","title":null,"scale":{"domain":["Telefónica","Pre","Sesión 1","Sesión 3","Sesión 5","Sesión 7","Sesión 9","Sesión 11","Sesión 13","Sesión 15","Post","1 mes","3 meses","6 meses","1 año"],"paddingInner":0,"paddingOuter":0}},"y":{"field":"v","type":"quantitative","title":null,"scale":{"domain":[0,80],"nice":false}}}},
{"data":{"name":"pcl"},"transform":[{"filter":{"field":"cat","oneOf":["Telefónica","Pre","Sesión 1","Sesión 7","1 mes","3 meses","6 meses","1 año"]}}],"mark":{"type":"text","fontSize":40,"align":"center","baseline":"alphabetic","dx":10,"dy":-38},"encoding":{"x":{"field":"cat","type":"nominal","title":null,"scale":{"domain":["Telefónica","Pre","Sesión 1","Sesión 3","Sesión 5","Sesión 7","Sesión 9","Sesión 11","Sesión 13","Sesión 15","Post","1 mes","3 meses","6 meses","1 año"],"paddingInner":0,"paddingOuter":0}},"y":{"field":"v","type":"quantitative","title":null,"scale":{"domain":[0,80],"nice":false}},"text":{"field":"v","type":"quantitative"}}},
{"data":{"name":"pcl"},"transform":[{"filter":{"field":"cat","oneOf":["Sesión 3","Sesión 5","Sesión 9"]}}],"mark":{"type":"text","fontSize":40,"align":"center","baseline":"alphabetic","dx":0,"dy":76},"encoding":{"x":{"field":"cat","type":"nominal","title":null,"scale":{"domain":["Telefónica","Pre","Sesión 1","Sesión 3","Sesión 5","Sesión 7","Sesión 9","Sesión 11","Sesión 13","Sesión 15","Post","1 mes","3 meses","6 meses","1 año"],"paddingInner":0,"paddingOuter":0}},"y":{"field":"v","type":"quantitative","title":null,"scale":{"domain":[0,80],"nice":false}},"text":{"field":"v","type":"quantitative"}}},
{"data":{"name":"pcl"},"transform":[{"filter":{"field":"cat","oneOf":["Sesión 11","Sesión 15","Post"]}}],"mark":{"type":"text","fontSize":40,"align":"center","baseline":"alphabetic","dx":32,"dy":-25},"encoding":{"x":{"field":"cat","type":"nominal","title":null,"scale":{"domain":["Telefónica","Pre","Sesión 1","Sesión 3","Sesión 5","Sesión 7","Sesión 9","Sesión 11","Sesión 13","Sesión 15","Post","1 mes","3 meses","6 meses","1 año"],"paddingInner":0,"paddingOuter":0}},"y":{"field":"v","type":"quantitative","title":null,"scale":{"domain":[0,80],"nice":false}},"text":{"field":"v","type":"quantitative"}}},
{"data":{"name":"pcl"},"transform":[{"filter":{"field":"cat","oneOf":["Sesión 13"]}}],"mark":{"type":"text","fontSize":40,"align":"center","baseline":"alphabetic","dx":56,"dy":14},"encoding":{"x":{"field":"cat","type":"nominal","title":null,"scale":{"domain":["Telefónica","Pre","Sesión 1","Sesión 3","Sesión 5","Sesión 7","Sesión 9","Sesión 11","Sesión 13","Sesión 15","Post","1 mes","3 meses","6 meses","1 año"],"paddingInner":0,"paddingOuter":0}},"y":{"field":"v","type":"quantitative","title":null,"scale":{"domain":[0,80],"nice":false}},"text":{"field":"v","type":"quantitative"}}},
{"data":{"name":"pcl_notas"},"transform":[{"filter":{"not":{"field":"cat","oneOf":["Post","6 meses"]}}}],"mark":{"type":"text","fontSize":41,"align":"center","baseline":"alphabetic"},"encoding":{"x":{"field":"cat","type":"nominal","title":null,"scale":{"domain":["Telefónica","Pre","Sesión 1","Sesión 3","Sesión 5","Sesión 7","Sesión 9","Sesión 11","Sesión 13","Sesión 15","Post","1 mes","3 meses","6 meses","1 año"],"paddingInner":0,"paddingOuter":0}},"y":{"field":"v","type":"quantitative","title":null,"scale":{"domain":[0,80],"nice":false}},"text":{"field":"txt"}}},
{"data":{"name":"pcl_notas"},"transform":[{"filter":{"field":"cat","oneOf":["Post","6 meses"]}}],"mark":{"type":"text","fontSize":41,"align":"center","baseline":"alphabetic"},"encoding":{"x":{"field":"cat","type":"nominal","title":null,"bandPosition":0,"scale":{"domain":["Telefónica","Pre","Sesión 1","Sesión 3","Sesión 5","Sesión 7","Sesión 9","Sesión 11","Sesión 13","Sesión 15","Post","1 mes","3 meses","6 meses","1 año"],"paddingInner":0,"paddingOuter":0}},"y":{"field":"v","type":"quantitative","title":null,"scale":{"domain":[0,80],"nice":false}},"text":{"field":"txt"}}},
{"data":{"name":"pcl_fases"},"mark":{"type":"text","fontSize":46,"align":"center","baseline":"alphabetic"},"encoding":{"x":{"field":"cat","type":"nominal","title":null,"bandPosition":0,"scale":{"domain":["Telefónica","Pre","Sesión 1","Sesión 3","Sesión 5","Sesión 7","Sesión 9","Sesión 11","Sesión 13","Sesión 15","Post","1 mes","3 meses","6 meses","1 año"],"paddingInner":0,"paddingOuter":0}},"y":{"field":"v","type":"quantitative","title":null,"scale":{"domain":[0,80],"nice":false}},"text":{"field":"txt"}}},
{"data":{"name":"pcl_nombre"},"mark":{"type":"text","fontSize":46,"align":"left","baseline":"alphabetic","dx":-116},"encoding":{"x":{"field":"cat","type":"nominal","title":null,"bandPosition":0,"scale":{"domain":["Telefónica","Pre","Sesión 1","Sesión 3","Sesión 5","Sesión 7","Sesión 9","Sesión 11","Sesión 13","Sesión 15","Post","1 mes","3 meses","6 meses","1 año"],"paddingInner":0,"paddingOuter":0}},"y":{"field":"v","type":"quantitative","title":null,"scale":{"domain":[0,80],"nice":false}},"text":{"field":"txt"}}},
{"data":{"name":"pcl_leyenda"},"mark":{"type":"point","shape":"M-1,0C-1,-0.366,-0.552,-0.663,0,-0.663C0.552,-0.663,1,-0.366,1,0C1,0.366,0.552,0.663,0,0.663C-0.552,0.663,-1,0.366,-1,0Z","size":9025,"filled":false,"color":"black","strokeWidth":2.7,"opacity":1},"encoding":{"x":{"field":"cat","type":"nominal","title":null,"bandPosition":0.85,"scale":{"domain":["Telefónica","Pre","Sesión 1","Sesión 3","Sesión 5","Sesión 7","Sesión 9","Sesión 11","Sesión 13","Sesión 15","Post","1 mes","3 meses","6 meses","1 año"],"paddingInner":0,"paddingOuter":0}},"y":{"field":"v","type":"quantitative","title":null,"scale":{"domain":[0,80],"nice":false}}}},
{"data":{"name":"pcl_leyenda"},"mark":{"type":"text","fontSize":41,"align":"left","baseline":"middle","dx":54},"encoding":{"x":{"field":"cat","type":"nominal","title":null,"bandPosition":0.85,"scale":{"domain":["Telefónica","Pre","Sesión 1","Sesión 3","Sesión 5","Sesión 7","Sesión 9","Sesión 11","Sesión 13","Sesión 15","Post","1 mes","3 meses","6 meses","1 año"],"paddingInner":0,"paddingOuter":0}},"y":{"field":"v","type":"quantitative","title":null,"scale":{"domain":[0,80],"nice":false}},"text":{"field":"txt"}}}
]}
]
}
